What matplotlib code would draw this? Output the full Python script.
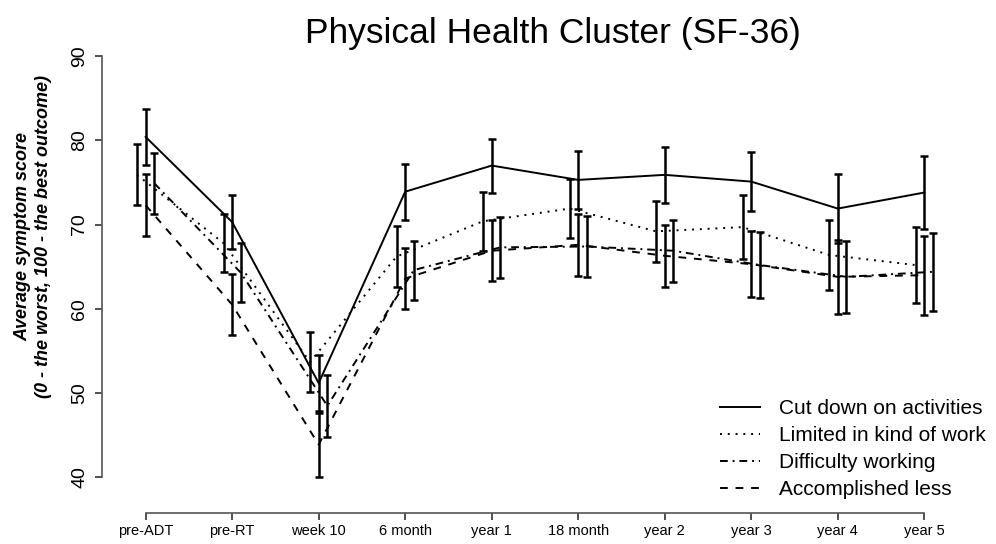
import matplotlib
matplotlib.use('Agg')
import matplotlib.pyplot as plt
import numpy as np

plt.rcParams['font.family'] = ['Liberation Sans', 'DejaVu Sans']

# time points and scores
timepoints = ['pre-ADT', 'pre-RT', 'week 10', '6 month', 'year 1',
              '18 month', 'year 2', 'year 3', 'year 4', 'year 5']

cut_down = [80.4, 70.3, 51.2, 73.9, 77.0, 75.3, 75.9, 75.1, 71.9, 73.8]
cut_down_err = [3.3, 3.2, 3.3, 3.3, 3.2, 3.4, 3.3, 3.5, 4.1, 4.3]

limited = [75.9, 67.8, 53.7, 66.2, 70.4, 71.9, 69.2, 69.7, 66.4, 65.2]
limited_err = [3.6, 3.4, 3.6, 3.6, 3.5, 3.5, 3.6, 3.8, 4.2, 4.5]

difficulty = [74.9, 64.3, 48.5, 64.6, 67.3, 67.4, 66.9, 65.2, 63.8, 64.4]
difficulty_err = [3.6, 3.5, 3.7, 3.5, 3.6, 3.6, 3.7, 3.9, 4.3, 4.6]

accomplished = [72.3, 60.5, 43.9, 63.6, 66.9, 67.6, 66.3, 65.3, 63.8, 64.0]
accomplished_err = [3.7, 3.6, 3.8, 3.6, 3.6, 3.7, 3.7, 3.9, 4.4, 4.7]

series = [
    ('Cut down on activities', cut_down, cut_down_err, 0.0, '-'),
    ('Limited in kind of work', limited, limited_err, -0.1, (0, (1, 3))),
    ('Difficulty working', difficulty, difficulty_err, 0.1, (0, (4, 2.5, 1, 2.5))),
    ('Accomplished less', accomplished, accomplished_err, 0.0, (0, (4, 4))),
]

fig = plt.figure(figsize=(9.96, 5.44), dpi=100)
ax = fig.add_axes([0.1028, 0.0570, 0.8686, 0.8511])

x = np.arange(len(timepoints))
for label, vals, err, off, ls in series:
    xs = x + off
    ax.plot(xs, vals, color='black', lw=1.4, linestyle=ls, label=label)
    ax.errorbar(xs, vals, yerr=err, fmt='none', ecolor='black',
                elinewidth=1.8, capsize=3, capthick=1.8)

ax.set_xlim(-0.5, 9.5)
ax.set_ylim(35.79, 90.71)

for side in ['top', 'right']:
    ax.spines[side].set_visible(False)
ax.spines['left'].set_bounds(40, 90)
ax.spines['bottom'].set_bounds(0, 9)
for side in ['left', 'bottom']:
    ax.spines[side].set_color('#555555')
    ax.spines[side].set_linewidth(1.2)

ax.set_xticks(x)
ax.set_xticklabels(timepoints, fontsize=10.5)
ax.set_yticks([40, 50, 60, 70, 80, 90])
ax.set_yticklabels(['40', '50', '60', '70', '80', '90'], rotation=90,
                   va='center', fontsize=14)
ax.tick_params(axis='both', direction='out', length=5, width=1.2,
               color='#333333')
ax.tick_params(axis='y', pad=5)
ax.tick_params(axis='x', pad=3)

fig.text(0.555, 0.938, 'Physical Health Cluster (SF-36)', ha='center',
         va='center', fontsize=25.5)
fig.text(0.033, 0.565, 'Average symptom score\n(0 - the worst, 100 - the best outcome)',
         rotation=90, ha='center', va='center', fontsize=13,
         fontweight='bold', fontstyle='italic', linespacing=1.3)

ax.legend(loc='upper left', bbox_to_anchor=(0.723, 0.266),
          bbox_transform=fig.transFigure, frameon=False, fontsize=15,
          handlelength=1.9, handletextpad=0.95, labelspacing=0.38,
          borderpad=0, borderaxespad=0)

fig.savefig('out.png', dpi=100)
